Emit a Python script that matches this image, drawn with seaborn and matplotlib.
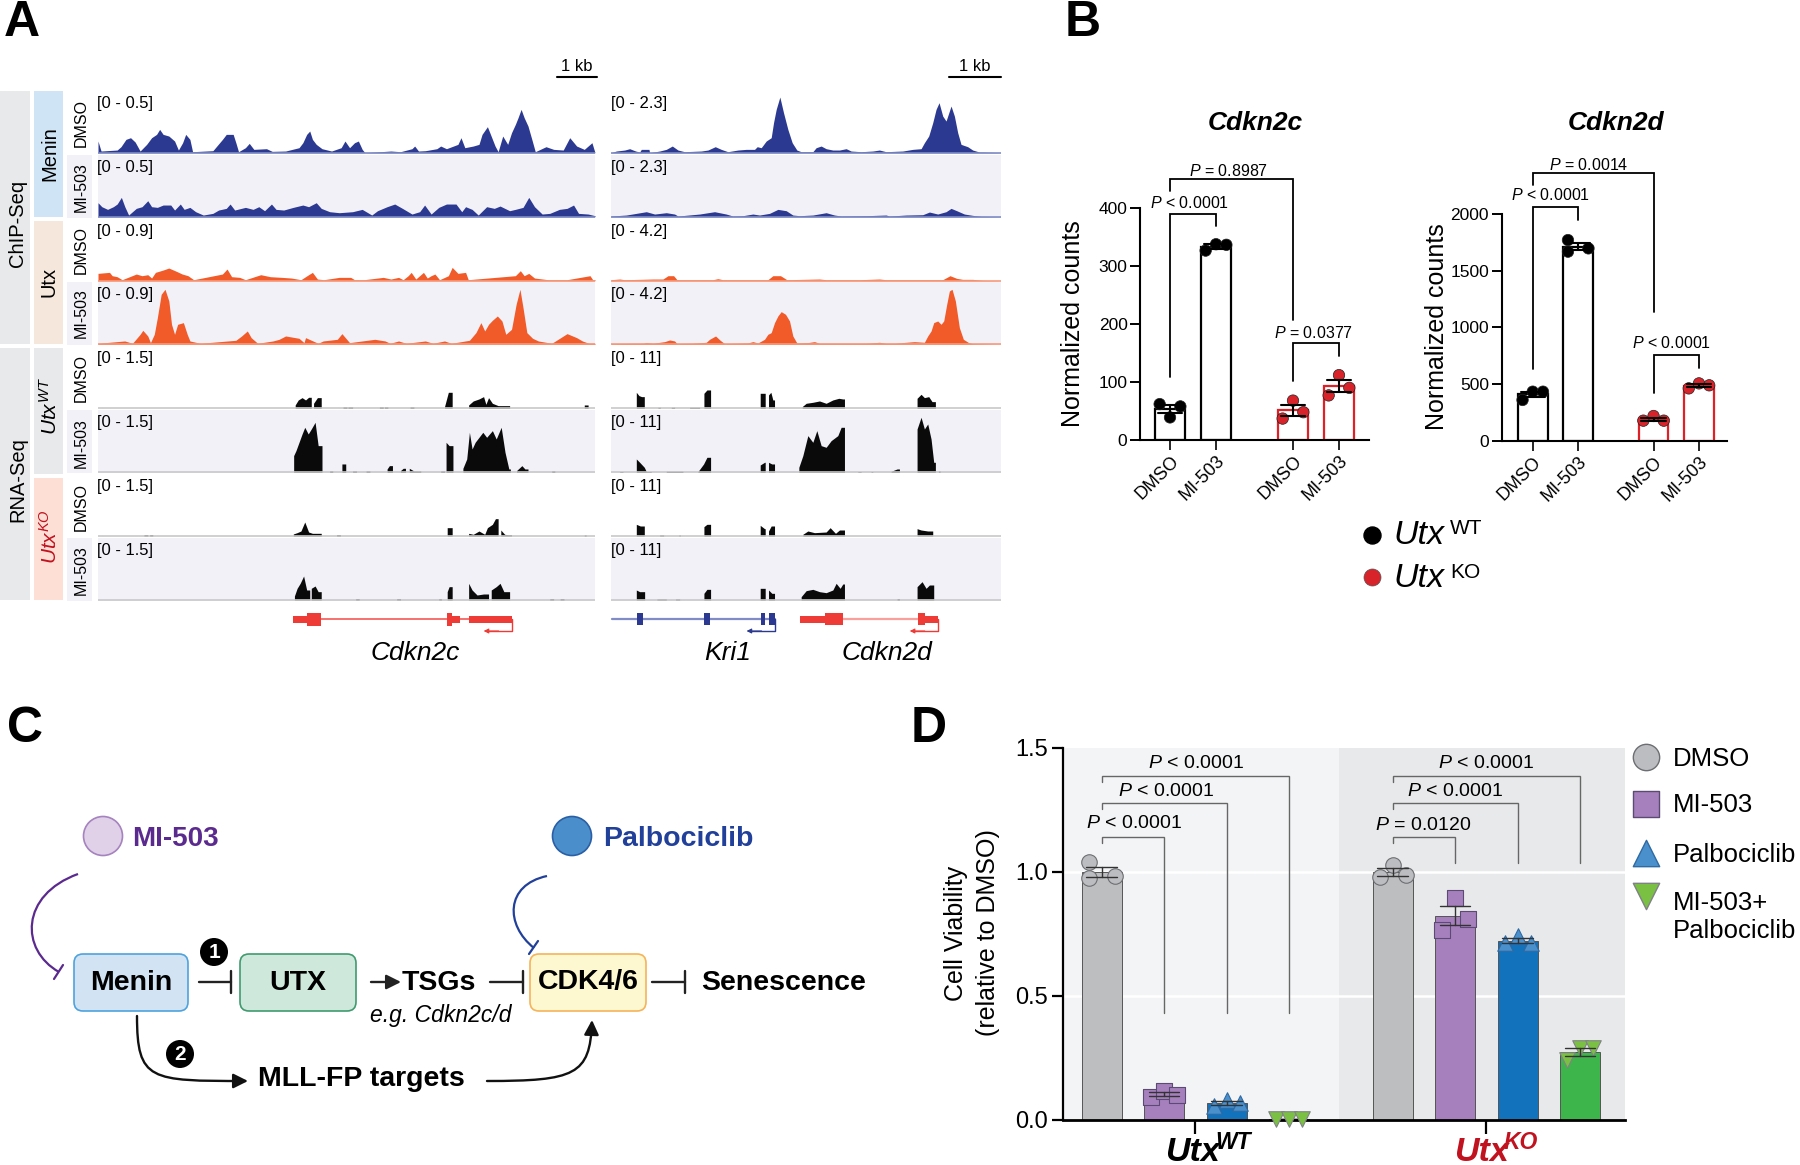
import numpy as np
import pandas as pd
import matplotlib
matplotlib.use("Agg")
import matplotlib.pyplot as plt
from matplotlib.path import Path
from matplotlib.patches import PathPatch, FancyArrowPatch, FancyBboxPatch, Rectangle, Ellipse
import seaborn as sns

sns.set_theme(style="ticks")
FONT = "Liberation Sans"
plt.rcParams.update({
    "font.family": [FONT, "DejaVu Sans"],
    "mathtext.fontset": "custom",
    "mathtext.rm": FONT,
    "mathtext.it": FONT + ":italic",
    "mathtext.bf": FONT + ":bold",
    "mathtext.default": "regular",
})

W, H = 1800, 1165

# ---------------- Panel A: coverage tracks (position, signal) ----------------
C_MENIN_DMSO = [(255,35),(263,5),(305,8),(315,18),(328,40),(340,45),(352,32),(365,5),(382,25),(395,45),(408,55),(416,70),(425,55),(440,50),(455,35),(465,8),(476,30),(484,55),(495,40),(502,3),(555,6),(580,40),(590,55),(608,55),(615,30),(622,3),(640,15),(650,28),(662,10),(695,12),(710,4),(745,5),(780,15),(790,30),(800,55),(808,65),(815,40),(825,25),(840,12),(865,5),(890,15),(900,35),(912,15),(925,30),(935,35),(945,10),(952,0),(1020,5),(1045,3),(1075,12),(1082,20),(1092,5),(1110,6),(1140,12),(1150,20),(1165,12),(1195,25),(1203,45),(1213,15),(1235,20),(1250,25),(1258,55),(1272,78),(1280,55),(1292,20),(1300,3),(1312,50),(1325,25),(1335,60),(1345,85),(1352,105),(1360,130),(1368,105),(1378,80),(1388,40),(1397,3),(1425,18),(1445,10),(1470,8),(1487,45),(1505,20),(1525,10),(1545,30),(1553,0)]
C_MENIN_MI = [(255,42),(265,30),(280,22),(295,30),(305,38),(316,58),(325,30),(335,5),(345,15),(355,25),(370,30),(385,48),(395,30),(410,28),(425,35),(445,35),(455,20),(470,38),(480,22),(495,28),(510,15),(530,5),(555,10),(570,20),(590,25),(600,38),(612,20),(640,28),(660,22),(675,30),(690,18),(708,38),(720,22),(740,20),(765,28),(790,35),(805,30),(825,42),(838,25),(860,15),(885,12),(920,15),(945,22),(970,5),(985,18),(1010,30),(1030,38),(1050,25),(1075,8),(1095,15),(1108,35),(1125,8),(1145,28),(1165,38),(1190,38),(1205,15),(1215,30),(1232,22),(1248,5),(1270,30),(1290,25),(1305,32),(1330,18),(1345,22),(1365,28),(1380,58),(1395,30),(1415,8),(1435,10),(1460,22),(1480,25),(1497,35),(1510,10),(1535,8),(1553,3)]
C_UTX_DMSO = [(255,22),(285,25),(292,15),(305,12),(318,3),(355,20),(370,15),(385,18),(395,8),(405,25),(425,32),(440,38),(460,28),(475,20),(490,15),(505,3),(580,20),(592,35),(604,12),(625,10),(640,3),(680,18),(705,12),(735,10),(760,8),(785,3),(805,18),(815,25),(828,5),(845,3),(885,10),(915,10),(925,3),(950,3),(1000,10),(1020,5),(1040,10),(1052,3),(1065,15),(1073,25),(1085,5),(1095,15),(1105,25),(1115,8),(1125,15),(1135,20),(1147,3),(1170,15),(1180,40),(1195,22),(1215,25),(1222,3),(1345,15),(1358,30),(1368,15),(1380,22),(1395,8),(1430,3),(1480,3),(1540,15),(1547,3),(1553,3)]
C_UTX_MI = [(255,3),(325,10),(345,3),(365,30),(372,42),(385,25),(392,5),(402,30),(410,80),(420,150),(430,165),(440,130),(447,60),(455,30),(463,60),(478,65),(488,30),(495,10),(522,3),(615,12),(630,25),(645,40),(655,20),(672,3),(712,10),(728,15),(745,25),(780,18),(793,5),(797,20),(830,3),(843,10),(880,15),(892,32),(912,5),(978,15),(1005,10),(1018,3),(1040,10),(1060,3),(1110,10),(1130,3),(1160,10),(1178,3),(1225,12),(1242,35),(1255,65),(1265,40),(1275,60),(1285,72),(1298,85),(1310,70),(1320,30),(1335,45),(1347,120),(1357,165),(1365,110),(1375,35),(1390,18),(1405,10),(1440,3),(1480,32),(1505,20),(1520,10),(1537,3),(1553,3)]
C_WT_DMSO = [(255,0),(770,10),(778,25),(788,32),(797,25),(805,33),(812,0),(818,15),(828,32),(838,0),(895,4),(905,0),(908,4),(920,0),(990,4),(1000,0),(1003,4),(1012,0),(1070,4),(1080,0),(1160,5),(1170,48),(1180,0),(1223,10),(1235,22),(1250,28),(1262,35),(1268,12),(1275,32),(1285,15),(1300,8),(1330,0),(1525,10),(1535,0),(1553,0)]
C_WT_MI = [(255,0),(766,50),(772,65),(780,90),(788,115),(795,135),(804,115),(812,130),(822,150),(830,80),(840,0),(860,4),(868,0),(892,25),(902,0),(920,4),(930,0),(955,4),(965,0),(1010,10),(1016,20),(1024,0),(1045,5),(1052,12),(1058,0),(1068,12),(1080,4),(1090,4),(1098,0),(1150,4),(1160,0),(1164,90),(1172,80),(1182,0),(1208,12),(1218,40),(1225,120),(1232,70),(1240,90),(1250,105),(1260,120),(1270,105),(1285,125),(1295,100),(1308,135),(1318,60),(1328,10),(1332,0),(1348,5),(1362,20),(1370,10),(1378,0),(1440,4),(1448,0),(1553,0)]
C_KO_DMSO = [(255,0),(375,4),(385,0),(390,4),(398,0),(765,6),(775,10),(785,15),(795,42),(805,12),(815,8),(838,0),(878,4),(888,0),(1167,25),(1180,0),(1223,8),(1235,5),(1250,15),(1265,5),(1272,25),(1285,35),(1293,52),(1300,0),(1307,18),(1317,5),(1325,4),(1335,0),(1525,3),(1530,0),(1553,0)]
C_KO_MI = [(255,0),(768,12),(775,35),(783,50),(792,72),(800,30),(808,0),(812,35),(822,42),(830,25),(838,0),(928,4),(937,0),(1035,4),(1045,0),(1145,4),(1152,0),(1167,25),(1172,40),(1180,0),(1223,50),(1232,30),(1245,15),(1262,18),(1275,0),(1282,30),(1295,40),(1305,50),(1315,25),(1330,0),(1435,4),(1445,0),(1462,4),(1472,0),(1553,0)]

D_MENIN_DMSO = [(34,0),(50,5),(75,8),(90,12),(108,5),(120,2),(125,10),(148,10),(150,0),(180,5),(200,10),(218,20),(235,8),(255,3),(305,5),(325,8),(347,18),(365,10),(385,3),(415,8),(440,10),(465,10),(473,18),(485,15),(500,35),(515,45),(522,90),(530,130),(541,167),(552,120),(565,70),(578,30),(592,8),(605,3),(640,3),(650,15),(665,20),(680,12),(700,8),(720,8),(740,12),(755,5),(785,3),(820,5),(840,8),(860,3),(910,5),(940,10),(965,12),(975,30),(988,50),(1000,90),(1010,130),(1019,150),(1030,110),(1040,95),(1055,140),(1065,110),(1075,60),(1085,25),(1105,18),(1120,8),(1140,2),(1205,0)]
D_MENIN_MI = [(34,2),(80,5),(110,10),(140,15),(165,8),(200,12),(225,8),(235,2),(300,8),(345,15),(380,8),(400,2),(430,3),(460,8),(480,5),(510,10),(535,22),(560,18),(580,5),(600,3),(640,5),(680,12),(705,5),(725,2),(800,3),(860,5),(870,2),(920,5),(970,6),(990,14),(1015,8),(1040,15),(1055,25),(1072,18),(1095,8),(1120,4),(1145,1),(1205,0)]
D_UTX_DMSO = [(34,3),(60,5),(75,3),(120,4),(160,5),(190,5),(205,15),(222,15),(232,3),(340,3),(355,6),(370,3),(505,3),(520,15),(543,15),(562,3),(660,5),(680,3),(780,3),(840,5),(860,3),(1030,3),(1052,15),(1072,7),(1090,4),(1120,4),(1150,1),(1205,0)]
D_UTX_MI = [(34,2),(130,3),(140,5),(160,3),(195,8),(210,13),(225,10),(232,2),(280,3),(320,6),(330,15),(348,25),(362,12),(375,2),(445,4),(460,8),(475,4),(495,15),(505,30),(515,35),(525,65),(535,85),(545,98),(558,90),(570,70),(580,25),(592,4),(625,5),(645,8),(660,3),(700,3),(800,3),(840,6),(860,3),(885,3),(920,6),(945,8),(975,6),(985,25),(995,40),(1003,65),(1015,70),(1025,60),(1033,70),(1042,120),(1050,160),(1058,165),(1068,130),(1080,50),(1092,15),(1108,5),(1120,2),(1205,0)]
D_WT_DMSO = [(34,0),(110,48),(118,38),(126,35),(134,0),(175,3),(182,0),(215,3),(225,0),(270,3),(300,0),(313,45),(322,55),(333,0),(482,45),(497,0),(507,40),(514,48),(520,25),(525,0),(608,5),(620,15),(640,18),(660,22),(680,15),(700,25),(718,30),(730,28),(735,0),(953,30),(965,42),(975,32),(988,35),(998,20),(1008,0),(1205,0)]
D_WT_MI = [(34,0),(60,2),(70,0),(110,40),(120,30),(134,15),(140,2),(155,0),(200,3),(250,0),(295,2),(312,25),(322,45),(333,0),(482,22),(495,30),(497,0),(507,30),(517,25),(525,0),(598,15),(610,50),(625,110),(640,90),(652,125),(665,80),(680,75),(695,95),(715,110),(725,135),(735,0),(775,2),(785,0),(815,2),(820,0),(875,3),(893,10),(900,0),(953,130),(965,165),(975,130),(985,145),(995,100),(1003,30),(1008,0),(1017,4),(1022,0),(1205,0)]
D_KO_DMSO = [(34,0),(110,35),(122,30),(134,0),(180,3),(192,0),(238,3),(242,0),(313,28),(322,35),(333,0),(482,32),(495,22),(497,0),(507,15),(515,30),(525,0),(610,5),(625,15),(645,10),(680,12),(692,25),(708,8),(720,18),(735,0),(953,22),(965,18),(985,15),(1000,0),(1205,0)]
D_KO_MI = [(34,0),(110,30),(120,25),(135,0),(172,3),(200,0),(228,3),(240,0),(313,20),(322,32),(333,0),(482,35),(497,0),(507,30),(517,20),(525,0),(605,10),(620,28),(640,32),(660,25),(680,22),(700,30),(710,50),(722,35),(730,48),(735,0),(893,4),(900,0),(953,40),(968,55),(980,35),(990,45),(1003,0),(1205,0)]

RANGES_C = ["[0 - 0.5]", "[0 - 0.5]", "[0 - 0.9]", "[0 - 0.9]", "[0 - 1.5]", "[0 - 1.5]", "[0 - 1.5]", "[0 - 1.5]"]
RANGES_D = ["[0 - 2.3]", "[0 - 2.3]", "[0 - 4.2]", "[0 - 4.2]", "[0 - 11]", "[0 - 11]", "[0 - 11]", "[0 - 11]"]
TRACK_LABELS = ["DMSO", "MI-503"] * 4

# ---------------- Panel B ----------------
GROUPS_B = ["WT", "KO"]
TREATS_B = ["DMSO", "MI-503"]
CDKN2C_WT_DMSO = [62, 39, 58]
CDKN2C_WT_MI = [327, 338, 337]
CDKN2C_KO_DMSO = [37, 68, 48]
CDKN2C_KO_MI = [77, 112, 90]
CDKN2D_WT_DMSO = [361, 434, 434]
CDKN2D_WT_MI = [1768, 1666, 1695]
CDKN2D_KO_DMSO = [179, 220, 179]
CDKN2D_KO_MI = [463, 507, 490]

# ---------------- Panel D ----------------
GROUPS_D = ["WT", "KO"]
TREATS_D = ["DMSO", "MI-503", "Palbociclib", "Combo"]
VIAB_WT_DMSO = [1.04, 0.974, 0.985]
VIAB_WT_MI = [0.094, 0.117, 0.102]
VIAB_WT_PAL = [0.058, 0.081, 0.067]
VIAB_WT_COMBO = [0.004, 0.005, 0.004]
VIAB_KO_DMSO = [0.98, 1.03, 0.987]
VIAB_KO_MI = [0.766, 0.894, 0.812]
VIAB_KO_PAL = [0.712, 0.742, 0.715]
VIAB_KO_COMBO = [0.242, 0.289, 0.289]

fig = plt.figure(figsize=(W / 100, H / 100), dpi=100, facecolor="white")


def px_axes(x0, y0, x1, y1, **kw):
    return fig.add_axes([x0 / W, 1 - y1 / H, (x1 - x0) / W, (y1 - y0) / H], **kw)


BLUE, ORANGE, BLACK = "#2b3990", "#f15a29", "#0a0a0a"
LAV = "#f3f1f8"
BASES = [152.7, 216.7, 280.7, 344.3, 408.3, 472.3, 536, 600]
C_TRACKS = [C_MENIN_DMSO, C_MENIN_MI, C_UTX_DMSO, C_UTX_MI, C_WT_DMSO, C_WT_MI, C_KO_DMSO, C_KO_MI]
D_TRACKS = [D_MENIN_DMSO, D_MENIN_MI, D_UTX_DMSO, D_UTX_MI, D_WT_DMSO, D_WT_MI, D_KO_DMSO, D_KO_MI]
TRACK_COL = [BLUE, BLUE, ORANGE, ORANGE, BLACK, BLACK, BLACK, BLACK]
BASE_COL = ["#7f8cc6", "#7f8cc6", "#f79a7c", "#f79a7c", "#c8c8c8", "#c8c8c8", "#c8c8c8", "#c8c8c8"]


def sharp_edges(arr):
    """Outline with vertical edges where coverage starts from or returns to zero."""
    xs, ys = [arr[0, 0]], [arr[0, 1]]
    for (x, y) in arr[1:]:
        if ys[-1] == 0 and y > 0:
            xs.append(x); ys.append(0)
        elif y == 0 and ys[-1] > 0:
            xs.append(x); ys.append(ys[-1])
        xs.append(x); ys.append(y)
    return np.array(xs), np.array(ys)


def draw_track(x0, x1, xlim, base, data, color, base_col, shaded, sharp):
    ax = px_axes(x0, base - 62, x1, base + 1)
    ax.set_xlim(*xlim)
    ax.set_ylim(-3, 186)
    ax.set_xticks([]); ax.set_yticks([])
    for s in ax.spines.values():
        s.set_visible(False)
    ax.set_facecolor(LAV if shaded else "white")
    arr = np.array(data, dtype=float)
    xs, ys = sharp_edges(arr) if sharp else (arr[:, 0], arr[:, 1])
    ax.fill_between(xs, 0, ys, color=color, lw=0)
    ax.axhline(0, color=base_col, lw=1.2)
    return ax


for i in range(8):
    shaded = i % 2 == 1
    draw_track(98, 595, (255, 1553), BASES[i], C_TRACKS[i], TRACK_COL[i], BASE_COL[i], shaded, i >= 4)
    draw_track(611, 1001, (34, 1205), BASES[i], D_TRACKS[i], TRACK_COL[i], BASE_COL[i], shaded, i >= 4)


def tidy(groups, treats, table):
    rows = []
    for g, row in zip(groups, table):
        for t, vals in zip(treats, row):
            for v in vals:
                rows.append({"group": g, "treat": t, "value": v})
    return pd.DataFrame(rows)


def b_chart(box, xlim, ylim, yticks, table, unit_total, gap):
    ax = px_axes(*box)
    ax.patch.set_alpha(0)
    df = tidy(GROUPS_B, TREATS_B, table)
    sns.barplot(data=df, x="group", y="value", hue="treat", order=GROUPS_B, hue_order=TREATS_B,
                palette=["white", "white"], width=unit_total, gap=gap, errorbar="se", capsize=0.4,
                err_kws={"color": "black", "linewidth": 1.5}, saturation=1, legend=False, ax=ax,
                edgecolor="black", linewidth=1.6)
    for p in ax.patches:
        cx = p.get_x() + p.get_width() / 2
        if cx > 0.5:
            p.set_edgecolor("#e01f26")
    ax.set_xlim(*xlim); ax.set_ylim(*ylim)
    ax.set_yticks(yticks)
    ax.set_xticks([-unit_total / 4, unit_total / 4, 1 - unit_total / 4, 1 + unit_total / 4])
    ax.set_xticklabels(TREATS_B * 2, rotation=45, ha="right", rotation_mode="anchor", fontsize=13)
    ax.tick_params(axis="y", labelsize=12.5, length=7, width=1.4, color="black", pad=2, labelcolor="black")
    ax.tick_params(axis="x", length=7, width=1.4, pad=2, labelcolor="black")
    ax.set_xlabel(""); ax.set_ylabel("")
    sns.despine(ax=ax)
    for s in ("left", "bottom"):
        ax.spines[s].set_linewidth(1.5); ax.spines[s].set_color("black")
    step = unit_total / 2
    xs, ys, cols = [], [], []
    for gi, row in enumerate(table):
        for ti, vals in enumerate(row):
            offs = [-0.225, 0, 0.225] if not (gi == 0 and ti == 1 and ylim[1] > 500) else [-0.225, -0.225, 0.225]
            for o, v in zip(offs, vals):
                xs.append(gi + (ti - 0.5) * step + o * step)
                ys.append(v)
                cols.append("black" if gi == 0 else "#d9232a")
    sns.scatterplot(x=xs, y=ys, c=cols, s=68, edgecolor="#222222", linewidth=0.5, ax=ax, legend=False, zorder=1.5)
    return ax, step


def bracket(ax, x0, x1, top, left_end, right_end, color="black", lw=1.3):
    ax.plot([x0, x0, x1, x1], [left_end, top, top, right_end], color=color, lw=lw, clip_on=False,
            solid_joinstyle="miter", zorder=5)


axc, sc = b_chart((1140, 208.3, 1369, 440), (-0.431, 1.431), (0, 400), [0, 100, 200, 300, 400],
                  [[CDKN2C_WT_DMSO, CDKN2C_WT_MI], [CDKN2C_KO_DMSO, CDKN2C_KO_MI]], 0.748, 0.35)
posc = [-sc / 2, sc / 2, 1 - sc / 2, 1 + sc / 2]
bracket(axc, posc[0], posc[1], 391, 108, 370)
bracket(axc, posc[0], posc[2], 450, 430, 208)
bracket(axc, posc[2], posc[3], 167, 101, 145)

axd, sd = b_chart((1501.6, 213.7, 1727, 441), (-0.446, 1.42), (0, 2000), [0, 500, 1000, 1500, 2000],
                  [[CDKN2D_WT_DMSO, CDKN2D_WT_MI], [CDKN2D_KO_DMSO, CDKN2D_KO_MI]], 0.752, 0.35)
posd = [-sd / 2, sd / 2, 1 - sd / 2, 1 + sd / 2]
bracket(axd, posd[0], posd[1], 2059, 636, 1944)
bracket(axd, posd[0], posd[2], 2355, 2252, 1138)
bracket(axd, posd[2], posd[3], 754, 419, 639)

# ---------------- Panel D chart ----------------
axv = px_axes(1063, 748, 1625, 1120)
axv.set_facecolor("white")
UNIT = 0.859
BAR_COL = ["#bdbec0", "#a680bd", "#1272bb", "#3db54a"]
XL = (-0.455, 1.476)
axv.axvspan(XL[0], 0.493, color="#f3f4f6", lw=0, zorder=0)
axv.axvspan(0.493, XL[1], color="#e8e9eb", lw=0, zorder=0)
for yy in (0.5, 1.0):
    axv.axhline(yy, color="white", lw=1.8, zorder=0.5)
table_d = [[VIAB_WT_DMSO, VIAB_WT_MI, VIAB_WT_PAL, VIAB_WT_COMBO],
           [VIAB_KO_DMSO, VIAB_KO_MI, VIAB_KO_PAL, VIAB_KO_COMBO]]
df_d = tidy(GROUPS_D, TREATS_D, table_d)
sns.barplot(data=df_d, x="group", y="value", hue="treat", order=GROUPS_D, hue_order=TREATS_D,
            palette=BAR_COL, width=UNIT, gap=0.36, errorbar="se", capsize=0.42, saturation=1,
            err_kws={"color": "#333333", "linewidth": 1.0}, edgecolor="#555555", linewidth=0.7,
            legend=False, ax=axv)
axv.set_xlim(*XL); axv.set_ylim(0, 1.5)
axv.set_yticks([0, 0.5, 1.0, 1.5])
axv.set_yticklabels(["0.0", "0.5", "1.0", "1.5"])
axv.set_xticks([0, 1]); axv.set_xticklabels(["", ""])
axv.tick_params(axis="y", labelsize=17, length=8, width=1.6, color="black", pad=3, labelcolor="black")
axv.tick_params(axis="x", length=10, width=1.6, color="black")
axv.set_xlabel(""); axv.set_ylabel("")
sns.despine(ax=axv)
axv.spines["left"].set_linewidth(1.6); axv.spines["bottom"].set_linewidth(2)
axv.spines["left"].set_color("black"); axv.spines["bottom"].set_color("black")
MARK = ["o", "s", "^", "v"]
MARK_FC = ["#bcbdc0", "#a680bd", "#4a90cc", "#7ac143"]
MARK_EC = ["#6d6e71", "#5c4a75", "#2f6aa3", "#808285"]
dstep = UNIT / 4
for gi, row in enumerate(table_d):
    for ti, vals in enumerate(row):
        offs = [-0.21, -0.21, 0.21] if gi == 0 and ti == 0 else [-0.21, 0, 0.21]
        xs = [gi + (ti - 1.5) * dstep + o * dstep for o in offs]
        sns.scatterplot(x=xs, y=vals, marker=MARK[ti], color=MARK_FC[ti], edgecolor=MARK_EC[ti], linewidth=0.8,
                        s=125, ax=axv, legend=False, zorder=3 if (ti == 3 and gi == 0) else 1.5, clip_on=False)


def bars_d(g, t):
    return g + (t - 1.5) * dstep


for g, end in ((0, 0.433), (1, 1.038)):
    for t, top in ((1, 1.142), (2, 1.277), (3, 1.388)):
        bracket(axv, bars_d(g, 0), bars_d(g, t), top, top - 0.024, end, color="#666666", lw=1.0)

# ---------------- Overlay (pixel coordinates): labels, schematic ----------------
ov = fig.add_axes([0, 0, 1, 1], zorder=20)
ov.set_xlim(0, W); ov.set_ylim(H, 0); ov.axis("off"); ov.patch.set_alpha(0)


def T(x, y, s, size, **kw):
    kw.setdefault("ha", "center"); kw.setdefault("va", "center"); kw.setdefault("color", "black")
    if kw.get("rotation"):
        x += 1.5
    else:
        y += 2.5
    return ov.text(x, y, s, fontsize=size, **kw)


def R(x0, y0, x1, y1, c, z=1):
    ov.add_patch(Rectangle((x0, y0), x1 - x0, y1 - y0, fc=c, ec="none", zorder=z))


for letter, x, y in (("A", 22, 20), ("B", 1083, 20), ("C", 25, 727), ("D", 929, 727)):
    T(x, y, letter, 36, fontweight="bold")

GREY = "#e8e9eb"
R(0, 91, 29.6, 344, GREY); R(0, 348, 29.6, 600, GREY)
R(33.5, 91, 62.7, 217, "#cfe4f4"); R(33.5, 221, 62.7, 344, "#f5e7dc")
R(33.5, 348, 62.7, 474, GREY); R(33.5, 478, 62.7, 600, "#fddfd5")
T(16, 223, "ChIP-Seq", 14.5, rotation=90)
T(16, 480, "RNA-Seq", 14.5, rotation=90)
T(48, 154, "Menin", 14.5, rotation=90)
T(48, 282, "Utx", 14.5, rotation=90)
T(48, 406, r"$\mathit{Utx}^{\mathit{WT}}$", 15, rotation=90)
T(48, 537, r"$\mathit{Utx}^{\mathit{KO}}$", 15, rotation=90, color="#c1121f")
LABEL_Y = [123, 187, 250, 313, 378, 443, 507, 570]
for i, (lab, yy) in enumerate(zip(TRACK_LABELS, LABEL_Y)):
    if i % 2 == 1:
        R(67, BASES[i] - 62, 91.5, BASES[i] + 1, LAV)
    T(80, yy, lab, 11.5, rotation=90)
    T(97, BASES[i] - 52, RANGES_C[i], 12, ha="left")
    T(611, BASES[i] - 52, RANGES_D[i], 12, ha="left")
ov.plot([557, 597], [76.7, 76.7], color="black", lw=1.5)
ov.plot([949, 1001], [76.7, 76.7], color="black", lw=1.5)
T(577, 64, "1 kb", 12); T(975, 64, "1 kb", 12)

# Gene models
GENE_RED, GENE_BLUE = "#ef3b36", "#2b3990"
YG = 619
SX = lambda v: 98 + (v - 255) * 497 / 1298
DX = lambda v: 611 + (v - 34) * 390 / 1171


def exon(fx, a, b, half, col):
    R(fx(a), YG - half, fx(b), YG + half, col, z=3)


def tss(fx, a, b, col):
    ov.plot([fx(a), fx(a), fx(b)], [YG, YG + 12, YG + 12], color=col, lw=1.0, zorder=2)
    ov.add_patch(FancyArrowPatch((fx(b) + 12, YG + 12), (fx(b) - 3, YG + 12), arrowstyle="-|>", mutation_scale=7, color=col, lw=0.8, shrinkA=0, shrinkB=0))


ov.plot([SX(838), SX(1223)], [YG, YG], color="#f5706c", lw=1.4, zorder=2)
for a, b, h in ((765, 800, 3.5), (800, 838, 6.5), (1167, 1180, 6.5), (1180, 1200, 3.5), (1223, 1337, 3.5)):
    exon(SX, a, b, h, GENE_RED)
tss(SX, 1337, 1270, GENE_RED)
ov.plot([DX(37), DX(525)], [YG, YG], color="#7f8cc6", lw=1.6, zorder=2)
for a, b in ((112, 130), (314, 331), (484, 495), (508, 525)):
    exon(DX, a, b, 6, GENE_BLUE)
tss(DX, 525, 450, GENE_BLUE)
ov.plot([DX(731), DX(955)], [YG, YG], color="#f9a09c", lw=1.6, zorder=2)
for a, b, h in ((600, 678, 3.5), (678, 731, 6), (955, 977, 6), (977, 1016, 3.5)):
    exon(DX, a, b, h, GENE_RED)
tss(DX, 1016, 940, GENE_RED)
T(415, 650, "Cdkn2c", 19, style="italic")
T(728, 650, "Kri1", 19, style="italic")
T(887, 650, "Cdkn2d", 19, style="italic")

# Panel B texts
P_LT = r"$\mathit{P}$ < 0.0001"
for x, y, s in ((1190, 201, P_LT), (1229, 169, r"$\mathit{P}$ = 0.8987"), (1313.5, 331, r"$\mathit{P}$ = 0.0377"),
                (1551, 193, P_LT), (1589, 162, r"$\mathit{P}$ = 0.0014"), (1672, 341, P_LT)):
    T(x, y, s, 11.5)
T(1255, 121, "Cdkn2c", 19, fontweight="bold", style="italic")
T(1616, 120, "Cdkn2d", 19, fontweight="bold", style="italic")
T(1071, 324, "Normalized counts", 18, rotation=90)
T(1435, 327, "Normalized counts", 18, rotation=90)
ov.scatter([1372], [535], s=150, c="black", zorder=3)
ov.scatter([1372], [577], s=150, c="#d9232a", edgecolors="#555555", linewidths=0.5, zorder=3)
T(1393, 533, "Utx", 24.5, ha="left", style="italic")
T(1393, 576, "Utx", 24.5, ha="left", style="italic")
T(1450, 526, "WT", 15, ha="left")
T(1450, 570, "KO", 15, ha="left")

# Panel C schematic
for x0, x1, fc, ec, lab in ((74, 188, "#d2e4f4", "#4da3dd", "Menin"), (240, 356, "#cfe8dc", "#3f9b6e", "UTX"),
                            (530, 646, "#fdf8d0", "#f5b35a", "CDK4/6")):
    ov.add_patch(FancyBboxPatch((x0 + 8, 962), x1 - x0 - 16, 41, boxstyle="round,pad=8,rounding_size=9",
                                fc=fc, ec=ec, lw=1.2))
    T((x0 + x1) / 2, 980, lab, 20.5, fontweight="bold")
T(402, 980, "TSGs", 20.5, fontweight="bold", ha="left")
T(701, 980, "Senescence", 20.5, fontweight="bold", ha="left")
T(370, 1013, "e.g. Cdkn2c/d", 16.5, style="italic", ha="left")
T(258, 1077, "MLL-FP targets", 20.5, fontweight="bold", ha="left")
T(132, 836, "MI-503", 20, fontweight="bold", ha="left", color="#5b2a8e")
T(603, 836, "Palbociclib", 20.5, fontweight="bold", ha="left", color="#21409a")
ov.add_patch(Ellipse((103, 836), 39, 39, fc="#e0d0e8", ec="#a583bf", lw=1.2))
ov.add_patch(Ellipse((572, 836), 39, 39, fc="#4a8fcb", ec="#2a5fa5", lw=1.2))


def curve(pts, codes, col, lw=1.6):
    ov.add_patch(PathPatch(Path(pts, codes), fc="none", ec=col, lw=lw))


C4 = [Path.MOVETO, Path.CURVE4, Path.CURVE4, Path.CURVE4]
curve([(78, 874), (20, 895), (20, 950), (59, 972)], C4, "#5b2a8e")
ov.plot([54, 63], [979, 965], color="#5b2a8e", lw=1.6)
curve([(547, 876), (505, 885), (505, 925), (534, 948)], C4, "#21409a")
ov.plot([529, 538], [954, 941], color="#21409a", lw=1.6)
for x0, x1 in ((199, 231), (490, 523), (652, 685)):
    ov.plot([x0, x1], [982, 982], color="#222222", lw=1.7)
    ov.plot([x1, x1], [971, 993], color="#222222", lw=1.7)
ov.add_patch(FancyArrowPatch((371, 982), (401, 982), arrowstyle="-|>", mutation_scale=22, color="#222222", lw=1.7, shrinkA=0, shrinkB=0))
ov.add_patch(FancyArrowPatch(path=Path([(137, 1016), (137, 1081), (150, 1081), (248, 1081)], C4),
                             arrowstyle="-|>", mutation_scale=22, color="#111111", lw=1.7))
ov.add_patch(FancyArrowPatch(path=Path([(487, 1081), (575, 1081), (590, 1075), (592, 1020)], C4),
                             arrowstyle="-|>", mutation_scale=22, color="#111111", lw=1.7))
for (cx, cy, n) in ((214, 952, "1"), (180, 1054, "2")):
    ov.add_patch(Ellipse((cx, cy), 28, 28, fc="black", ec="none"))
    T(cx, cy - 2.5, n, 15, color="white", fontweight="bold")

# Panel D texts
T(955, 933, "Cell Viability", 18, rotation=90)
T(987, 933, "(relative to DMSO)", 18, rotation=90)
for x, col, sup in ((1165, "black", "WT"), (1454, "#c1121f", "KO")):
    ov.text(x, 1161, "Utx", fontsize=24.5, fontweight="bold", style="italic", color=col, ha="left", va="baseline")
    ov.text(x + 50, 1149, sup, fontsize=16.5, fontweight="bold", style="italic", color=col, ha="left", va="baseline")
for x, y, s in ((1134, 821, P_LT), (1165.5, 789, P_LT), (1196, 761, P_LT),
                (1423, 823, r"$\mathit{P}$ = 0.0120"), (1455, 789, P_LT), (1486, 761, P_LT)):
    T(x, y, s, 14)
LEG_Y = [757, 804, 853, 896]
LEG_TXT = [("DMSO", 757), ("MI-503", 803), ("Palbociclib", 852), ("MI-503+", 900), ("Palbociclib", 929)]
for t, yy in LEG_TXT:
    T(1673, yy, t, 18.5, ha="left")
for yy, m, fc, ec, s in zip(LEG_Y, MARK, MARK_FC, MARK_EC, (360, 340, 360, 360)):
    ov.scatter([1646], [yy], marker=m, s=s, c=fc, edgecolors=ec, linewidths=1)

fig.savefig("out.png", dpi=100, facecolor="white")
